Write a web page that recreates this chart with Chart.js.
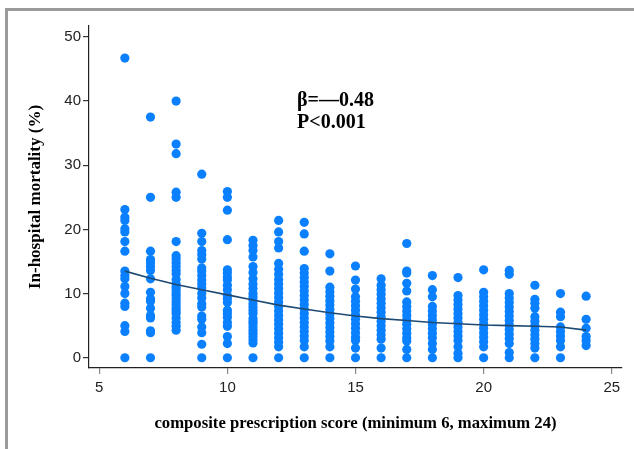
<!DOCTYPE html>
<html>
<head>
<meta charset="utf-8">
<script src="https://cdn.jsdelivr.net/npm/chart.js@4.4.1/dist/chart.umd.min.js"></script>
<style>
  html, body { margin: 0; padding: 0; background: #fff; }
  #wrap { position: relative; width: 634px; height: 449px; overflow: hidden; }
  #frame { position: absolute; left: 5px; top: 8px; width: 640px; height: 460px;
           border-left: 3px solid #9a9a9a; border-top: 3px solid #9a9a9a; }
  #chart1 { position: absolute; left: 0; top: 0; }
</style>
</head>
<body>
<div id="wrap">
  <div id="frame"></div>
  <canvas id="chart1" width="634" height="449"></canvas>
</div>
<script>
// Điểm số kê đơn (trục x) và tỷ lệ tử vong (%) đọc theo từng cột
const scores = [6, 7, 8, 9, 10, 11, 12, 13, 14, 15, 16, 17, 18, 19, 20, 21, 22, 23, 24];
const score6 = [46.7, 23.1, 21.9, 21.4, 20.1, 19.6, 18.1, 16.6, 13.5, 12.8, 12.3, 11.1, 10.0, 8.5, 8.0, 5.0, 4.1, 0];
const score7 = [37.5, 25.0, 16.6, 15.3, 14.8, 14.2, 13.6, 12.3, 10.2, 9.2, 8.8, 7.7, 6.6, 6.2, 4.2, 3.9, 0];
const score8 = [40.0, 33.3, 31.8, 25.8, 25.0, 18.1, 15.9, 15.4, 14.8, 14.2, 13.6, 13.1, 12.2, 11.5, 11.0, 10.6, 10.1, 9.7, 9.2, 8.7, 8.2, 7.7, 7.3, 6.9, 6.2, 5.5, 4.9, 4.3];
const score9 = [28.6, 19.4, 18.1, 16.7, 16.1, 15.4, 14.0, 13.5, 12.8, 12.1, 11.5, 10.9, 10.0, 9.3, 8.4, 7.9, 6.5, 6.0, 4.8, 3.9, 2.1, 0];
const score10 = [25.9, 25.0, 23.0, 18.4, 13.7, 13.2, 12.6, 12.1, 11.3, 10.6, 9.7, 9.2, 8.6, 7.4, 6.9, 6.3, 5.5, 4.9, 3.3, 2.2, 0];
const score11 = [18.3, 17.5, 16.7, 15.7, 14.2, 13.3, 12.3, 11.5, 10.8, 10.0, 9.5, 9.0, 8.4, 7.9, 7.4, 6.9, 6.1, 5.7, 5.3, 4.8, 4.3, 3.8, 3.3, 2.8, 2.3, 0];
const score12 = [21.4, 19.6, 18.1, 17.1, 14.7, 13.8, 13.0, 12.2, 11.5, 10.8, 10.1, 9.4, 8.7, 8.0, 7.3, 6.6, 5.9, 5.2, 4.5, 3.8, 3.1, 2.4, 1.7, 0];
const score13 = [21.1, 19.3, 16.6, 13.9, 13.2, 12.5, 11.8, 11.1, 10.4, 9.7, 9.0, 8.3, 7.6, 6.9, 6.2, 5.5, 4.8, 4.1, 3.4, 2.7, 1.7, 0];
const score14 = [16.2, 13.5, 11.0, 10.3, 9.6, 8.9, 8.2, 7.5, 6.8, 6.1, 5.4, 4.7, 4.0, 3.3, 2.6, 1.7, 0];
const score15 = [14.3, 12.1, 10.7, 9.5, 8.8, 8.1, 7.4, 6.7, 6.0, 5.3, 4.6, 3.9, 3.2, 2.7, 1.5, 0];
const score16 = [12.3, 11.3, 10.6, 9.9, 9.2, 8.5, 7.8, 7.1, 6.4, 5.7, 5.0, 4.3, 3.6, 2.9, 1.5, 0];
const score17 = [17.8, 13.5, 13.2, 11.6, 10.4, 8.7, 8.0, 7.3, 6.6, 5.9, 5.2, 4.5, 3.8, 3.1, 2.6, 1.3, 0];
const score18 = [12.8, 10.6, 9.5, 8.0, 7.3, 6.6, 5.9, 5.2, 4.5, 3.8, 3.1, 2.2, 1.3, 0];
const score19 = [12.5, 9.7, 9.0, 8.3, 7.6, 6.9, 6.2, 5.5, 4.8, 4.1, 3.4, 2.7, 1.7, 0.7, 0];
const score20 = [13.7, 10.2, 9.5, 8.8, 8.1, 7.4, 6.7, 6.0, 5.3, 4.6, 3.9, 3.2, 2.5, 1.7, 0];
const score21 = [13.6, 13.0, 10.0, 9.3, 8.6, 7.9, 7.2, 6.5, 5.8, 5.1, 4.4, 3.7, 3.0, 2.2, 0.8, 0];
const score22 = [11.3, 9.1, 8.5, 7.7, 6.4, 5.7, 5.0, 4.3, 3.6, 2.9, 2.2, 1.5, 0];
const score23 = [10.0, 7.1, 6.4, 4.8, 4.1, 3.4, 2.7, 1.7, 0];
const score24 = [9.6, 6.0, 4.6, 3.3, 2.7, 1.9];
const columns = [score6, score7, score8, score9, score10, score11, score12, score13, score14,
  score15, score16, score17, score18, score19, score20, score21, score22, score23, score24];

// Đường hồi quy (giá trị)
const fitValues = [13.5, 12.4, 11.4, 10.6, 9.8, 9.0, 8.2, 7.6, 7.0, 6.5, 6.1, 5.8, 5.5, 5.3, 5.1, 5.0, 4.9, 4.8, 4.3];

const xTicks = [5, 10, 15, 20, 25];
const yTicks = [0, 10, 20, 30, 40, 50];

const points = [];
scores.forEach((s, i) => {
  columns[i].forEach(v => points.push({ x: s, y: v }));
});
const fitLine = scores.map((s, i) => ({ x: s, y: fitValues[i] }));

// Chú thích β và P
const notePlugin = {
  id: 'note',
  afterDatasetsDraw(chart) {
    const ctx = chart.ctx;
    const xs = chart.scales.x, ys = chart.scales.y;
    ctx.save();
    ctx.fillStyle = '#000';
    ctx.font = 'bold 20px "Liberation Serif"';
    ctx.textBaseline = 'middle';
    ctx.textAlign = 'left';
    ctx.fillText('β=—0.48', xs.getPixelForValue(12.72), ys.getPixelForValue(40.0));
    ctx.fillText('P<0.001', xs.getPixelForValue(12.72), ys.getPixelForValue(36.6));
    ctx.restore();
  }
};

const ctx = document.getElementById('chart1').getContext('2d');
new Chart(ctx, {
  type: 'scatter',
  data: {
    datasets: [
      {
        data: fitLine,
        showLine: true,
        borderColor: '#1d4a73',
        borderWidth: 1.6,
        pointRadius: 0,
        tension: 0,
        order: 0
      },
      {
        data: points,
        backgroundColor: '#0a80ff',
        borderWidth: 0,
        pointRadius: 4.6,
        order: 1
      }
    ]
  },
  options: {
    responsive: false,
    animation: false,
    layout: { padding: { left: 0, right: 12, top: 26, bottom: 0 } },
    plugins: { legend: { display: false }, tooltip: { enabled: false } },
    scales: {
      x: {
        type: 'linear',
        min: 4.6,
        max: 25.4,
        afterBuildTicks: scale => { scale.ticks = xTicks.map(v => ({ value: v })); },
        afterFit: scale => { scale.height = 81; },
        grid: { drawOnChartArea: false, drawTicks: true, tickLength: 6, color: '#888', lineWidth: 1.2 },
        border: { display: true, color: '#222', width: 1.2 },
        ticks: { color: '#222', padding: 5, font: { family: '"Liberation Sans"', size: 15 }, maxRotation: 0 },
        title: {
          display: true,
          text: 'composite prescription score (minimum 6, maximum 24)',
          color: '#000',
          font: { family: '"Liberation Serif"', size: 16.7, weight: 'bold' },
          padding: { top: 0, bottom: 15 }
        }
      },
      y: {
        type: 'linear',
        min: -1.6,
        max: 51.7,
        afterBuildTicks: scale => { scale.ticks = yTicks.map(v => ({ value: v })); },
        afterFit: scale => { scale.width = 89; },
        grid: { drawOnChartArea: false, drawTicks: true, tickLength: 6, color: '#333', lineWidth: 1.2 },
        border: { display: true, color: '#222', width: 1.2 },
        ticks: { color: '#222', padding: 2, font: { family: '"Liberation Sans"', size: 15 } },
        title: {
          display: true,
          text: 'In-hospital mortality (%)',
          color: '#000',
          font: { family: '"Liberation Serif"', size: 17, weight: 'bold' },
          padding: { top: 25, bottom: 0 }
        }
      }
    }
  },
  plugins: [notePlugin]
});
</script>
</body>
</html>
